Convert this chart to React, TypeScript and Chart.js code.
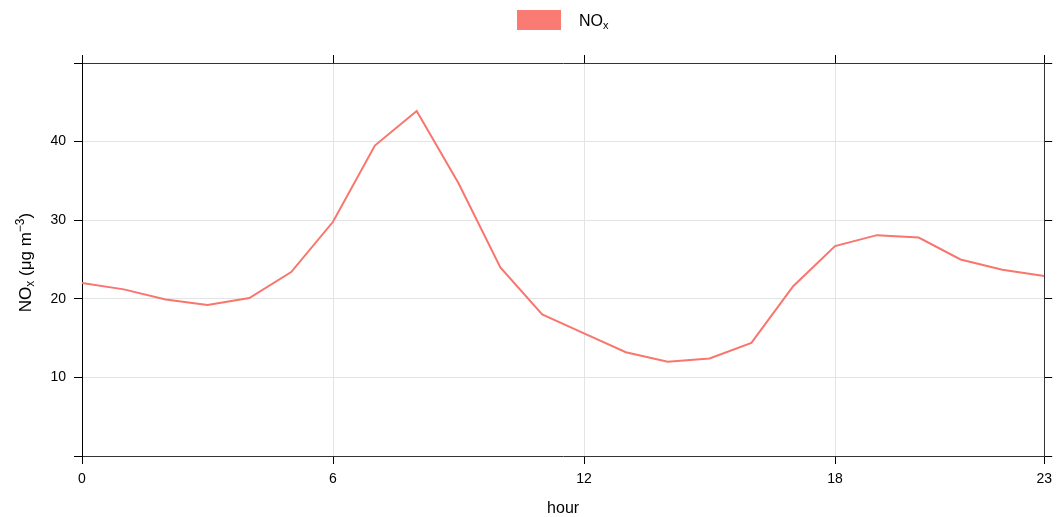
import React, { useEffect, useRef } from "react";
import { Chart, registerables } from "chart.js";

Chart.register(...registerables);

const hours: number[] = [0, 1, 2, 3, 4, 5, 6, 7, 8, 9, 10, 11, 12, 13, 14, 15, 16, 17, 18, 19, 20, 21, 22, 23];
const noxValues: number[] = [22.0, 21.2, 19.9, 19.2, 20.1, 23.4, 29.8, 39.5, 43.9, 34.7, 24.0, 18.0, 15.6, 13.2, 12.0, 12.4, 14.4, 21.6, 26.7, 28.1, 27.8, 25.0, 23.7, 22.9];
const xTicks: number[] = [0, 6, 12, 18, 23];
const yTicks: number[] = [0, 10, 20, 30, 40, 50];
const yLabelled: number[] = [10, 20, 30, 40];

const LINE_COLOR = "#F8766D";
const LEGEND_COLOR = "#FA7B73";
const FONT = "'Liberation Sans', Arial, sans-serif";
const GRID = "#E4E4E4";

function drawRich(ctx: CanvasRenderingContext2D, parts: { t: string; s: number; dy: number }[], x: number, y: number, align: "left" | "center") {
  let total = 0;
  for (const p of parts) {
    ctx.font = `${p.s}px ${FONT}`;
    total += ctx.measureText(p.t).width;
  }
  let cx = align === "center" ? x - total / 2 : x;
  ctx.textBaseline = "alphabetic";
  ctx.textAlign = "left";
  for (const p of parts) {
    ctx.font = `${p.s}px ${FONT}`;
    ctx.fillText(p.t, cx, y + p.dy);
    cx += ctx.measureText(p.t).width;
  }
}

const annotations = {
  id: "latticeText",
  afterDraw(chart: any) {
    const ctx: CanvasRenderingContext2D = chart.ctx;
    const area = chart.chartArea;
    ctx.save();
    // legend
    ctx.fillStyle = LEGEND_COLOR;
    ctx.fillRect(517, 10, 44, 20);
    ctx.fillStyle = "#000";
    drawRich(ctx, [
      { t: "NO", s: 16, dy: 0 },
      { t: "x", s: 11, dy: 3 },
    ], 579, 26, "left");
    // x title
    ctx.font = `16px ${FONT}`;
    ctx.textAlign = "center";
    ctx.textBaseline = "alphabetic";
    ctx.fillText("hour", (area.left + area.right) / 2, 513);
    // y title
    ctx.translate(31, (area.top + area.bottom) / 2 + 3);
    ctx.rotate(-Math.PI / 2);
    drawRich(ctx, [
      { t: "NO", s: 17, dy: 0 },
      { t: "x", s: 12, dy: 3 },
      { t: " (\u03bcg m", s: 17, dy: 0 },
      { t: "\u22123", s: 12, dy: -7 },
      { t: ")", s: 17, dy: 0 },
    ], 0, 0, "center");
    ctx.restore();
  },
};

export default function App() {
  const ref = useRef<HTMLCanvasElement | null>(null);
  useEffect(() => {
    if (!ref.current) return;
    Chart.defaults.font.family = FONT;
    const tickFont = { size: 14, family: FONT };
    const chart = new Chart(ref.current, {
      type: "line",
      data: {
        datasets: [
          {
            label: "NOx",
            data: hours.map((h, i) => ({ x: h, y: noxValues[i] })),
            borderColor: LINE_COLOR,
            backgroundColor: LINE_COLOR,
            borderWidth: 2,
            pointRadius: 0,
            tension: 0,
            xAxisID: "x",
            yAxisID: "y",
          },
        ],
      },
      options: {
        animation: false,
        responsive: true,
        maintainAspectRatio: false,
        layout: { padding: 0 },
        plugins: { legend: { display: false }, tooltip: { enabled: false } },
        scales: {
          x: {
            type: "linear",
            position: "bottom",
            min: 0,
            max: 23,
            afterBuildTicks: (s: any) => { s.ticks = xTicks.map((v) => ({ value: v })); },
            afterFit: (s: any) => { s.height = 61; },
            ticks: { font: tickFont, color: "#000", padding: 7, autoSkip: false, maxRotation: 0, callback: (v: any) => String(v) },
            grid: {
              color: (c: any) => (c.tick && (c.tick.value === 0 || c.tick.value === 23) ? "rgba(0,0,0,0)" : GRID),
              tickColor: "#000",
              tickLength: 8,
              drawTicks: true,
            },
            border: { display: true, color: "#333", width: 1 },
          },
          x2: {
            type: "linear",
            position: "top",
            min: 0,
            max: 23,
            afterBuildTicks: (s: any) => { s.ticks = xTicks.map((v) => ({ value: v })); },
            afterFit: (s: any) => { s.height = 63; },
            ticks: { display: true, font: tickFont, autoSkip: false, callback: () => "" },
            grid: { drawOnChartArea: false, tickColor: "#000", tickLength: 8, drawTicks: true },
            border: { display: true, color: "#333", width: 1 },
          },
          y: {
            type: "linear",
            position: "left",
            min: 0,
            max: 50,
            afterBuildTicks: (s: any) => { s.ticks = yTicks.map((v) => ({ value: v })); },
            afterFit: (s: any) => { s.width = 82; },
            ticks: {
              font: tickFont,
              color: "#000",
              padding: 8,
              autoSkip: false,
              callback: (v: any) => (yLabelled.includes(Number(v)) ? String(v) : ""),
            },
            grid: {
              color: (c: any) => (c.tick && (c.tick.value === 0 || c.tick.value === 50) ? "rgba(0,0,0,0)" : GRID),
              tickColor: "#000",
              tickLength: 8,
              drawTicks: true,
            },
            border: { display: true, color: "#000", width: 1 },
          },
          y2: {
            type: "linear",
            position: "right",
            min: 0,
            max: 50,
            afterBuildTicks: (s: any) => { s.ticks = yTicks.map((v) => ({ value: v })); },
            afterFit: (s: any) => { s.width = 14; },
            ticks: { display: true, font: tickFont, autoSkip: false, callback: () => "" },
            grid: { drawOnChartArea: false, tickColor: "#000", tickLength: 8, drawTicks: true },
            border: { display: true, color: "#333", width: 1 },
          },
        },
      } as any,
      plugins: [annotations],
    });
    return () => chart.destroy();
  }, []);
  return (
    <div style={{ position: "fixed", left: 0, top: 0, width: 1059, height: 517, background: "#fff" }}>
      <canvas ref={ref} />
    </div>
  );
}
